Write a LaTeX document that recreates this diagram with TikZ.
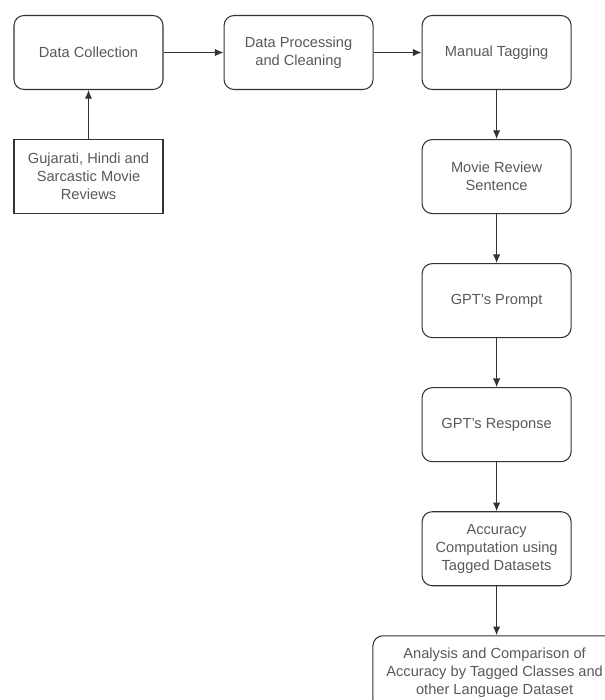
\documentclass[tikz,border=0pt]{standalone}
\usepackage{fontspec}
\setmainfont{Liberation Sans}
\usetikzlibrary{positioning,arrows.meta}
\colorlet{box edge}{black!80}
\colorlet{box text}{black!65}
\tikzstyle{stage} = [draw=box edge, line width=0.9pt, rounded corners=0.3cm, minimum width=4.47cm, minimum height=2.22cm, align=center, text=box text, font=\fontsize{12.5}{15.5}\selectfont]
\tikzset{source/.style={stage, rounded corners=0pt},
    flow/.style={draw=box edge, line width=0.9pt, -{Latex[length=2.6mm,width=2.2mm]}}}

\begin{document}
\begin{tikzpicture}[node distance=1.47cm]
    % Page frame (the last box runs off the page)
    \clip (0,0) rectangle (18.15,-21);
    %
    \begin{scope}[local bounding box = topRow]
    \node[stage] (collect) at (2.655,-1.575) {Data Collection};
    \node[stage, right=1.8cm of collect] (clean) {Data Processing\\and Cleaning};
    \node[stage, right=1.44cm of clean] (tag) {Manual Tagging};
    \end{scope}
    \node[source, below=of collect] (reviews) {Gujarati, Hindi and\\Sarcastic Movie\\Reviews};
    % Main column
    \node[stage, below=of tag] (sentence) {Movie Review\\Sentence};
    \node[stage, below=of sentence] (prompt) {GPT's Prompt};
    \node[stage, below=of prompt] (response) {GPT's Response};
    \node[stage, below=of response] (accuracy) {Accuracy\\Computation using\\Tagged Datasets};
    \node[stage, below=of accuracy, minimum width=7.3cm, xshift=-0.06cm] (analysis) {Analysis and Comparison of\\Accuracy by Tagged Classes and\\other Language Dataset};
    %
    \draw[flow] (reviews) -- (collect);
    \draw[flow] (collect) -- (clean);
    \draw[flow] (clean) -- (tag);
    \draw[flow] (tag) -- (sentence);
    \draw[flow] (sentence) -- (prompt);
    \draw[flow] (prompt) -- (response);
    \draw[flow] (response) -- (accuracy);
    \draw[flow] (accuracy) -- (accuracy |- analysis.north);
\end{tikzpicture}
\end{document}
